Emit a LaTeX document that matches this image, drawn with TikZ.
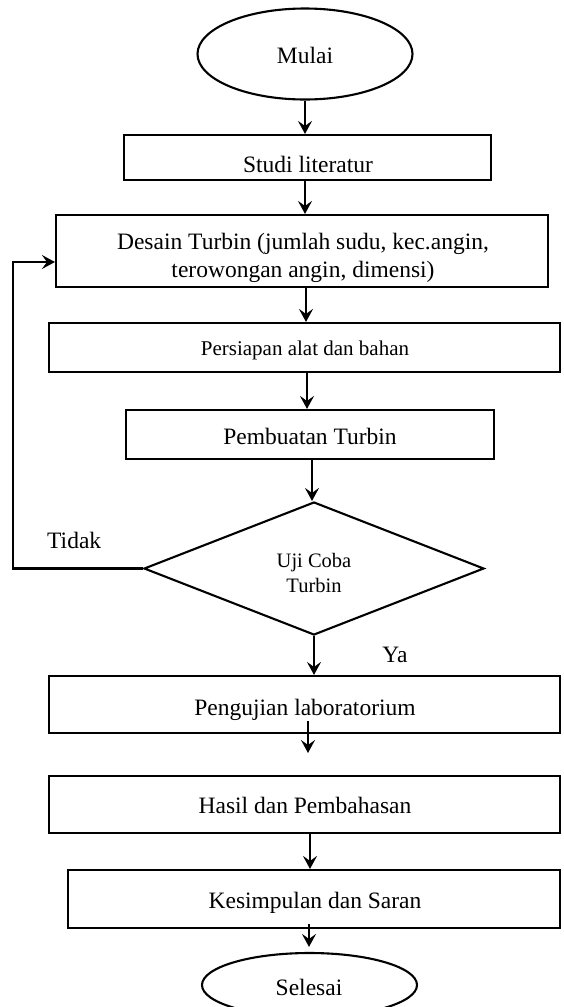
\documentclass[tikz,border=0pt]{standalone}
\usepackage{fontspec}
\setmainfont{Liberation Serif}
\usetikzlibrary{shapes.geometric,arrows.meta}
\begin{document}
\begin{tikzpicture}[x=1pt,y=-1pt,
  box/.style={draw, rectangle, line width=2.1pt, inner sep=0pt},
  term/.style={draw, ellipse, line width=2.1pt, inner sep=0pt},
  decision/.style={draw, diamond, line width=2.1pt, inner sep=0pt},
  txt/.style={anchor=base, inner sep=0pt, font=\fontsize{23.5}{28}\selectfont},
  smalltxt/.style={anchor=base, inner sep=0pt, font=\fontsize{21}{25}\selectfont},
  dtxt/.style={anchor=base, inner sep=0pt, font=\fontsize{20.5}{25}\selectfont},
  flow/.style={line width=2.1pt, -{Stealth[length=13pt,width=14pt,inset=5pt]}}]
\useasboundingbox (0,0) rectangle (563,1007);

% shapes
\node[term, minimum width=215pt, minimum height=91pt] (mulai) at (305,54) {};
\node[box, minimum width=367pt, minimum height=45pt] (studi) at (307.5,157.5) {};
\node[box, minimum width=492pt, minimum height=72pt] (desain) at (302,251) {};
\node[box, minimum width=511pt, minimum height=49pt] (persiapan) at (304.5,347.5) {};
\node[box, minimum width=368pt, minimum height=49pt] (pembuatan) at (310,434.5) {};
\node[decision, minimum width=340pt, minimum height=133pt] (uji) at (314,568.5) {};
\node[box, minimum width=511pt, minimum height=57pt] (pengujian) at (304.5,704.5) {};
\node[box, minimum width=511pt, minimum height=57pt] (hasil) at (304.5,804.5) {};
\node[box, minimum width=492pt, minimum height=58pt] (kesimpulan) at (314,899) {};
\node[term, minimum width=215pt, minimum height=64pt] (selesai) at (309.5,985) {};

% texts
\node[txt] (tmulai) at (305,63) {Mulai};
\node[txt] (tstudi) at (308,172) {Studi literatur};
\node[txt] (tdesainA) at (303,249) {Desain Turbin (jumlah sudu, kec.angin,};
\node[txt] (tdesainB) at (303,277) {terowongan angin, dimensi)};
\node[smalltxt] (tpersiapan) at (305,355) {Persiapan alat dan bahan};
\node[txt] (tpembuatan) at (310,444) {Pembuatan Turbin};
\node[dtxt] (tujiA) at (314,567) {Uji Coba};
\node[dtxt] (tujiB) at (314,592) {Turbin};
\node[txt, anchor=base west] (ttidak) at (47,548) {Tidak};
\node[txt] (tya) at (395,662) {Ya};
\node[txt] (tpengujian) at (305,715) {Pengujian laboratorium};
\node[txt] (thasil) at (305,813) {Hasil dan Pembahasan};
\node[txt] (tkesimpulan) at (315,908) {Kesimpulan dan Saran};
\node[txt] (tselesai) at (309,995) {Selesai};

% connectors
\draw[flow] (mulai.south) -- (mulai.south |- studi.north);
\draw[flow] ([xshift=-2.5pt]studi.south) -- ([xshift=-2.5pt]studi.south |- desain.north);
\draw[flow] ([xshift=4pt]desain.south) -- ([xshift=4pt]desain.south |- persiapan.north);
\draw[flow] ([xshift=2.5pt]persiapan.south) -- ([xshift=2.5pt]persiapan.south |- pembuatan.north);
\draw[flow] ([xshift=2pt]pembuatan.south) -- ([xshift=2pt]pembuatan.south |- uji.north);
\draw[flow] (uji.south) -- (uji.south |- pengujian.north);
\coordinate (pgout) at (308,753);
\draw[flow] ([xshift=3.5pt,yshift=13pt]pengujian.south) -- (pgout);
\draw[flow] ([xshift=5.5pt]hasil.south) -- ([xshift=5.5pt]hasil.south |- kesimpulan.north);
\draw[flow] ([xshift=-5pt,yshift=5pt]kesimpulan.south) -- ([xshift=-5pt,yshift=5pt]kesimpulan.south |- selesai.north);
\coordinate (fb) at (13,568.5);
\draw[flow] (uji.west) -- (fb) |- ([yshift=-11pt]desain.west);
\end{tikzpicture}
\end{document}
